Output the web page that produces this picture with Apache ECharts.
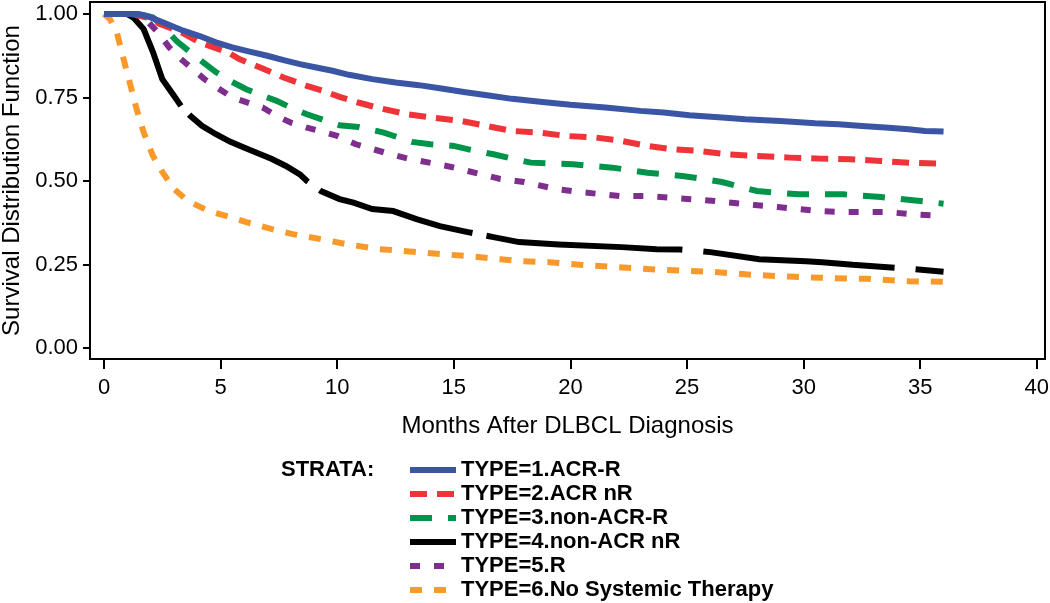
<!DOCTYPE html>
<html><head><meta charset="utf-8">
<script src="https://cdn.jsdelivr.net/npm/echarts@6/dist/echarts.min.js"></script>
<style>html,body{margin:0;padding:0;background:#fff}#c{width:1050px;height:603px}</style>
</head><body><div id="c"></div>
<script>
const seriesNames = ['TYPE=1.ACR-R','TYPE=2.ACR nR','TYPE=3.non-ACR-R','TYPE=4.non-ACR nR','TYPE=5.R','TYPE=6.No Systemic Therapy'];
const xTicks = [0,5,10,15,20,25,30,35,40];
const yTickValues = [0,0.25,0.5,0.75,1];
const yTickLabels = ['0.00','0.25','0.50','0.75','1.00'];

const acrR = [[0,1],[1.5,1],[2.0,0.99],[2.7,0.97],[3.4,0.95],[4.1,0.934],[4.8,0.915],[5.5,0.90],[6.2,0.888],[7,0.875],[7.7,0.862],[8.4,0.85],[9.1,0.84],[9.8,0.83],[10.5,0.818],[11.5,0.805],[12.5,0.795],[13.5,0.787],[14.4,0.778],[15.5,0.766],[16.5,0.756],[17.5,0.746],[18.7,0.737],[20,0.728],[21.5,0.72],[23,0.71],[24,0.705],[25.1,0.697],[26.5,0.69],[27.5,0.685],[29,0.68],[30.5,0.673],[31.5,0.67],[32.5,0.665],[33.5,0.66],[34.5,0.655],[35.2,0.65],[36,0.648]];
const acrNR = [[0,1],[1.2,1],[1.8,0.99],[2.4,0.97],[3.3,0.946],[4.1,0.915],[4.7,0.9],[5.3,0.886],[5.8,0.865],[6.7,0.84],[7.7,0.81],[8.7,0.785],[9.4,0.77],[10.1,0.752],[10.9,0.735],[11.7,0.72],[13,0.70],[14.1,0.69],[15.3,0.68],[16.4,0.665],[17.5,0.65],[18.7,0.645],[19.8,0.635],[21.1,0.63],[22.2,0.62],[23.3,0.605],[24.4,0.595],[25.5,0.59],[26.7,0.58],[28,0.575],[29.4,0.57],[30.7,0.567],[32,0.565],[33.3,0.56],[34.7,0.554],[36,0.552]];
const nonAcrR = [[0,1],[1.5,1],[2.1,0.99],[2.7,0.95],[3.1,0.92],[3.8,0.88],[4.8,0.826],[5.4,0.80],[6.1,0.775],[6.7,0.758],[7.4,0.74],[8,0.72],[8.7,0.70],[9.4,0.683],[10.1,0.667],[10.9,0.662],[12,0.645],[13.2,0.617],[14,0.61],[15,0.605],[15.8,0.592],[16.7,0.58],[17.5,0.567],[18.3,0.555],[20.1,0.55],[21.8,0.54],[23.3,0.525],[24.8,0.515],[25.5,0.508],[26.5,0.497],[28,0.47],[29.8,0.46],[31.7,0.46],[33.3,0.452],[35,0.44],[36,0.432]];
const nonAcrNR = [[0,1],[1.0,1],[1.25,0.99],[1.7,0.955],[2.1,0.886],[2.5,0.805],[3.0,0.755],[3.3,0.725],[3.7,0.695],[4.2,0.665],[4.8,0.64],[5.4,0.618],[6.0,0.60],[6.6,0.583],[7.2,0.566],[7.8,0.545],[8.4,0.52],[8.7,0.50],[9.3,0.47],[10.1,0.446],[10.7,0.435],[11.5,0.416],[12.4,0.41],[13.4,0.386],[14.4,0.365],[15.6,0.347],[16.7,0.332],[17.8,0.317],[19.5,0.31],[22.2,0.302],[23.7,0.296],[24.7,0.295],[26,0.287],[28.1,0.266],[30.1,0.26],[30.8,0.257],[32.1,0.249],[33,0.245],[34.8,0.236],[36,0.228]];
const typeR = [[0,1],[1.0,1],[1.7,0.99],[2.3,0.946],[2.8,0.90],[3.3,0.865],[3.8,0.835],[4.4,0.80],[5.5,0.75],[6.8,0.72],[7.4,0.695],[8,0.675],[8.7,0.66],[10,0.635],[10.8,0.61],[12.3,0.58],[13.1,0.566],[14.7,0.545],[15.6,0.53],[17,0.506],[18,0.497],[19.4,0.476],[20.4,0.467],[22.1,0.455],[23.3,0.455],[25,0.446],[26.2,0.44],[27.9,0.428],[28.9,0.422],[30.6,0.41],[31.7,0.407],[33.6,0.407],[34.7,0.40],[36,0.395]];
const noTherapy = [[0,1],[0.25,0.985],[0.55,0.946],[0.8,0.875],[1.1,0.796],[1.4,0.715],[1.7,0.646],[2.1,0.575],[2.5,0.527],[3.0,0.476],[3.6,0.44],[4.5,0.41],[5.4,0.392],[6.1,0.377],[7.2,0.356],[8.1,0.341],[9.3,0.326],[10.4,0.311],[11.8,0.296],[13.5,0.287],[14.5,0.281],[15.6,0.275],[17,0.266],[17.8,0.26],[19.1,0.257],[20.4,0.249],[22,0.242],[23.8,0.234],[25,0.231],[26.1,0.228],[27.8,0.219],[29.6,0.213],[30.8,0.21],[32.7,0.207],[34.5,0.20],[36,0.198]];
// x ranges (months) where the black line pattern shows gaps
const blackGaps = [[3.3,3.65],[8.75,9.25],[15.8,16.4],[24.8,25.7],[33.9,34.8]];

const seriesData = [acrR, acrNR, nonAcrR, nonAcrNR, typeR, noTherapy];
const colors = ['#3B55A5','#EE3339','#00944B','#000000','#7E2F8E','#F8992A'];
const dashes = ['solid',[17,10],[22,16],'solid',[10,14],[12,12]];

const chart = echarts.init(document.getElementById('c'), null, {renderer:'canvas'});
const FONT = '"Liberation Sans", Arial, sans-serif';
chart.setOption({
  animation: false,
  backgroundColor: '#fff',
  grid: {left:90, right:5, top:2, bottom:244, containLabel:false, outerBoundsMode:'none',
         show:true, borderColor:'#000', borderWidth:2, backgroundColor:'transparent'},
  xAxis: {
    type:'value', min:-0.6, max:40.35,
    name:'Months After DLBCL Diagnosis', nameLocation:'middle', nameGap:55,
    nameTextStyle:{fontFamily:FONT, fontSize:24, color:'#000'},
    axisLine:{show:false, onZero:false},
    axisTick:{show:true, length:10, lineStyle:{color:'#000', width:2}, customValues:xTicks},
    axisLabel:{fontFamily:FONT, fontSize:22, color:'#000', margin:18, customValues:xTicks},
    splitLine:{show:false}
  },
  yAxis: {
    type:'value', min:-0.033, max:1.036,
    name:'Survival Distribution Function', nameLocation:'middle', nameGap:64,
    nameTextStyle:{fontFamily:FONT, fontSize:24, color:'#000'},
    axisLine:{show:false, onZero:false},
    axisTick:{show:true, length:7, lineStyle:{color:'#000', width:2}, customValues:yTickValues},
    axisLabel:{fontFamily:FONT, fontSize:22, color:'#000', margin:12, customValues:yTickValues,
      formatter:(v)=>yTickLabels[Math.round(v/0.25)]},
    splitLine:{show:false}
  },
  legend: {
    orient:'vertical', left:407, top:458, padding:0, itemWidth:46, itemHeight:14, itemGap:0,
    textStyle:{fontFamily:FONT, fontSize:22, fontWeight:'bold', color:'#000', lineHeight:24},
    data: seriesNames.map((n,i)=>({name:n, itemStyle:{opacity:0}, lineStyle:{width:6, type:dashes[i], color:colors[i]}}))
  },
  graphic: [
    {type:'text', left:281, top:459, style:{text:'STRATA:', fontFamily:FONT, fontSize:22, fontWeight:'bold', fill:'#000'}}
  ],
  series: seriesNames.map((n,i)=>({
    name:n, type:'line', data:seriesData[i], showSymbol:false, symbol:'none', clip:false,
    color: colors[i],
    lineStyle:{color:colors[i], width:6, type:dashes[i], cap:'butt', join:'miter'},
    emphasis:{disabled:true}, z: 10 - i
  }))
});

// build the black line's broken pattern from the path length in pixels
(function(){
  const pts = nonAcrNR.map(p => chart.convertToPixel({gridIndex:0}, p));
  function lenAt(x){
    const px = chart.convertToPixel({gridIndex:0}, [x,0])[0];
    let L = 0;
    for (let k=1;k<pts.length;k++){
      const a = pts[k-1], b = pts[k];
      if (px >= b[0]) { L += Math.hypot(b[0]-a[0], b[1]-a[1]); }
      else { const t = (px - a[0])/(b[0]-a[0]); L += t*Math.hypot(b[0]-a[0], b[1]-a[1]); break; }
    }
    return L;
  }
  const arr = []; let prev = 0;
  blackGaps.forEach(g => { const s = lenAt(g[0]), e = lenAt(g[1]); arr.push(s - prev, e - s); prev = e; });
  arr.push(5000, 1);
  const series = seriesNames.map((n,i)=> i===3 ? {lineStyle:{type:arr}} : {});
  chart.setOption({series});
})();
</script></body></html>
